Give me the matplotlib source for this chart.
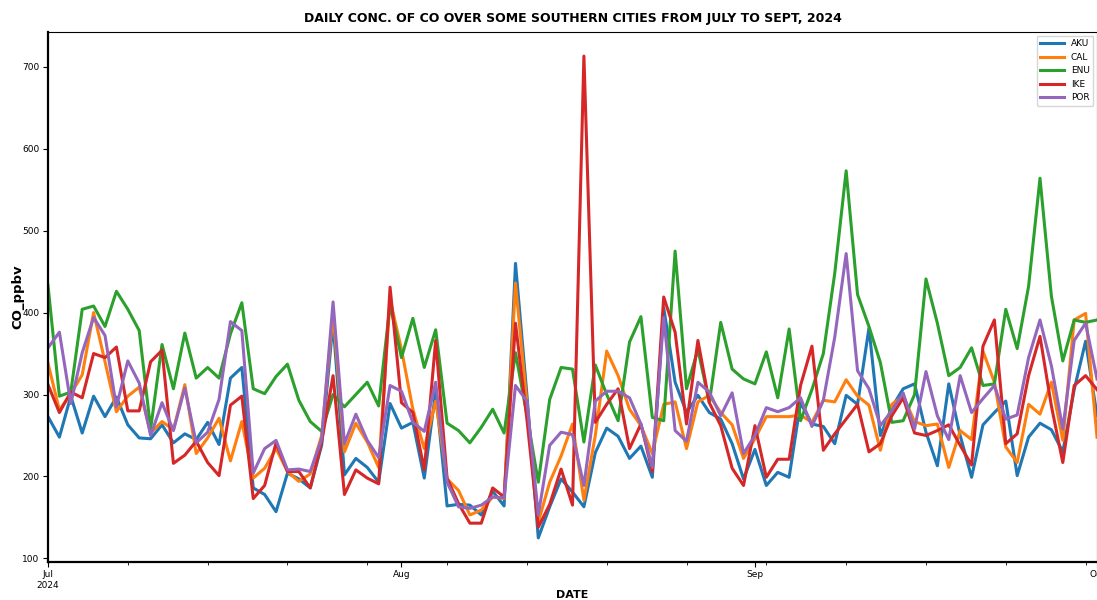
import numpy as np
import pandas as pd
import matplotlib
matplotlib.use("Agg")
import matplotlib.pyplot as plt
import matplotlib.dates as mdates

dates = pd.date_range("2024-07-01", "2024-10-01", freq="D")

AKU = [273, 248, 298, 253, 298, 273, 297, 263, 247, 246,
       263, 241, 252, 245, 266, 239, 320, 333, 186, 178,
       157, 204, 197, 186, 238, 388, 202, 222, 211, 193,
       289, 259, 266, 198, 304, 164, 166, 165, 153, 182,
       164, 460, 300, 125, 163, 197, 181, 163, 229, 259,
       249, 222, 237, 199, 406, 315, 278, 299, 278, 270,
       240, 197, 233, 189, 205, 199, 290, 264, 261, 240,
       299, 288, 381, 250, 284, 307, 313, 254, 213, 313,
       250, 199, 263, 278, 292, 201, 248, 265, 257, 230,
       306, 365, 274]
CAL = [338, 281, 301, 324, 400, 340, 279, 298, 309, 253,
       267, 257, 312, 228, 247, 271, 219, 267, 198, 210,
       234, 206, 194, 203, 250, 400, 230, 265, 242, 211,
       416, 355, 282, 234, 292, 197, 183, 153, 159, 175,
       173, 436, 290, 144, 193, 225, 264, 171, 250, 353,
       323, 282, 262, 228, 288, 291, 234, 291, 299, 278,
       263, 222, 246, 273, 273, 273, 275, 266, 293, 291,
       318, 298, 287, 232, 288, 298, 267, 262, 264, 211,
       256, 245, 353, 315, 236, 217, 288, 276, 315, 244,
       391, 399, 248]
ENU = [433, 298, 303, 404, 408, 383, 426, 404, 378, 258,
       361, 307, 375, 320, 333, 320, 374, 412, 307, 301,
       322, 337, 293, 267, 255, 300, 285, 300, 315, 286,
       410, 345, 393, 333, 379, 265, 256, 241, 260, 282,
       253, 351, 275, 193, 294, 333, 331, 242, 336, 300,
       268, 364, 395, 272, 268, 475, 307, 355, 290, 388,
       331, 319, 313, 352, 296, 380, 268, 306, 350, 448,
       573, 422, 383, 339, 266, 268, 300, 441, 387, 323,
       333, 357, 311, 313, 404, 356, 432, 564, 420, 341,
       391, 388, 391]
IKE = [312, 278, 303, 296, 350, 345, 358, 280, 280, 340,
       354, 216, 226, 243, 217, 201, 287, 298, 173, 189,
       241, 206, 206, 186, 242, 323, 178, 208, 198, 191,
       431, 290, 278, 208, 366, 198, 167, 143, 143, 186,
       175, 387, 270, 138, 166, 209, 165, 713, 266, 288,
       307, 234, 264, 206, 419, 376, 264, 366, 290, 262,
       210, 189, 262, 199, 221, 221, 311, 359, 232, 252,
       270, 288, 230, 240, 274, 296, 253, 250, 256, 263,
       238, 214, 359, 391, 240, 252, 323, 371, 286, 217,
       311, 323, 306]
POR = [357, 376, 289, 351, 394, 372, 285, 341, 314, 250,
       290, 256, 308, 241, 254, 294, 389, 378, 204, 234,
       244, 208, 209, 206, 246, 413, 240, 276, 244, 223,
       311, 304, 266, 255, 315, 193, 163, 161, 165, 175,
       174, 311, 292, 153, 238, 254, 251, 189, 292, 304,
       304, 296, 264, 211, 394, 256, 243, 315, 303, 274,
       302, 228, 250, 284, 279, 284, 296, 261, 293, 370,
       472, 329, 307, 262, 280, 302, 258, 328, 274, 245,
       323, 278, 295, 311, 270, 275, 345, 391, 335, 258,
       366, 387, 319]

cities = ["AKU", "CAL", "ENU", "IKE", "POR"]
df = pd.DataFrame({"AKU": AKU, "CAL": CAL, "ENU": ENU, "IKE": IKE, "POR": POR},
                  index=dates)

fig = plt.figure(figsize=(10.97, 6.0), dpi=100)
ax = fig.add_axes([48 / 1097, 38 / 600, 1049 / 1097, 530 / 600])

colors = ["#1f77b4", "#ff7f0e", "#2ca02c", "#d62728", "#9467bd"]
for name, c in zip(cities, colors):
    ax.plot(df.index, df[name], color=c, lw=2.2, label=name)

ax.set_xlim(dates[0], dates[-1])
ax.margins(y=0.05)

ax.xaxis.set_major_locator(mdates.MonthLocator())
ax.xaxis.set_minor_locator(mdates.WeekdayLocator(byweekday=mdates.MO))


def month_fmt(x, pos=None):
    d = mdates.num2date(x)
    if d.month == 7:
        return d.strftime("%b\n%Y")
    return d.strftime("%b")


ax.xaxis.set_major_formatter(plt.FuncFormatter(month_fmt))
ax.tick_params(axis="both", which="major", labelsize=6.5, length=3.5, pad=2.5)
ax.tick_params(axis="x", which="minor", length=2)

for s in ["left", "bottom"]:
    ax.spines[s].set_linewidth(1.6)
    ax.spines[s].set_color("black")

ax.set_title("DAILY CONC. OF CO OVER SOME SOUTHERN CITIES FROM JULY TO SEPT, 2024",
             fontsize=9, fontweight="bold", pad=7)
ax.set_xlabel("DATE", fontsize=8, fontweight="bold")
ax.xaxis.set_label_coords(0.5, -0.0535)
ax.set_ylabel("CO_ppbv", fontsize=9.5, fontweight="bold")
ax.yaxis.set_label_coords(-0.0225, 0.5)

ax.legend(loc="upper right", fontsize=6.5, handlelength=2.6, borderaxespad=0.4)

fig.savefig("out.png", dpi=100)
